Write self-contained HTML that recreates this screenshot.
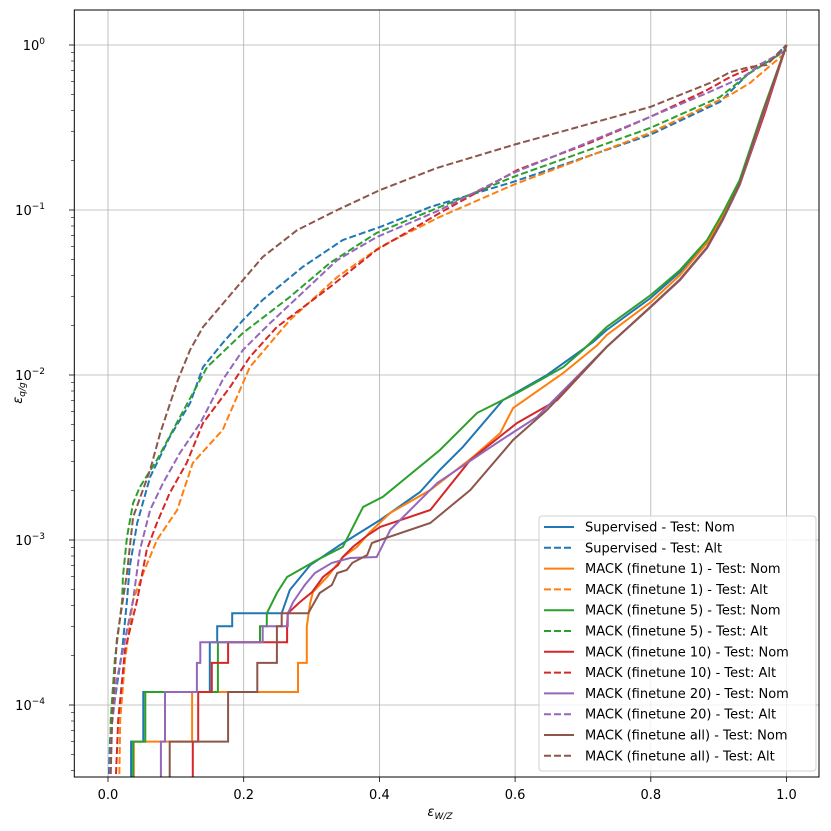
<!DOCTYPE html>
<html><head><meta charset="utf-8"><style>
html,body{margin:0;padding:0;background:#fff;}
svg{display:block;font-family:"DejaVu Sans","Liberation Sans",sans-serif;}
</style></head><body>
<svg id="chart" width="831" height="831" viewBox="0 0 831 831" xmlns="http://www.w3.org/2000/svg">
<defs><clipPath id="plotclip"><rect x="74" y="10" width="745" height="767"/></clipPath></defs>
<rect x="0" y="0" width="831" height="831" fill="#fff"/>
<g id="grid"></g>
<g id="series" clip-path="url(#plotclip)"></g>
<rect x="74.3" y="10" width="744.7" height="767" fill="none" stroke="#000" stroke-width="1"/>
<g id="ticks"></g>
<text x="440" y="816" font-size="13" text-anchor="middle" font-style="italic">ε<tspan font-size="9" dy="3">W/Z</tspan></text>
<text transform="translate(22,393) rotate(-90)" font-size="13" text-anchor="middle" font-style="italic">ε<tspan font-size="9" dy="3">q/g</tspan></text>
<g id="legend"></g>
</svg>
<script>
const xTicks = [0.0, 0.2, 0.4, 0.6, 0.8, 1.0];
const xTickLabels = ["0.0","0.2","0.4","0.6","0.8","1.0"];
const yTickExps = [0, -1, -2, -3, -4];
const seriesNames = ["Supervised - Test: Nom","Supervised - Test: Alt","MACK (finetune 1) - Test: Nom","MACK (finetune 1) - Test: Alt","MACK (finetune 5) - Test: Nom","MACK (finetune 5) - Test: Alt","MACK (finetune 10) - Test: Nom","MACK (finetune 10) - Test: Alt","MACK (finetune 20) - Test: Nom","MACK (finetune 20) - Test: Alt","MACK (finetune all) - Test: Nom","MACK (finetune all) - Test: Alt"];
const seriesColors = ["#1f77b4","#1f77b4","#ff7f0e","#ff7f0e","#2ca02c","#2ca02c","#d62728","#d62728","#9467bd","#9467bd","#8c564b","#8c564b"];

const supNomX = [.034,.034,.052,.052,.150,.150,.161,.161,.183,.183,.256,.268,.298,.342,.401,.460,.489,.523,.582,.647,.715,.735,.800,.843,.883,.906,.931,.965,1.0];
const supNomLog = [-4.6,-4.222,-4.222,-3.921,-3.921,-3.62,-3.62,-3.523,-3.523,-3.444,-3.444,-3.303,-3.152,-3.030,-2.879,-2.709,-2.576,-2.436,-2.152,-2.0,-1.80,-1.727,-1.533,-1.376,-1.2,-1.03,-0.83,-0.412,0];
const supAltX = [0,.003,.010,.021,.028,.032,.043,.062,.091,.121,.140,.169,.199,.228,.287,.346,.401,.475,.597,.799,.902,.946,.980,1];
const supAltLog = [-4.6,-4.212,-3.970,-3.667,-3.364,-3.164,-2.897,-2.618,-2.376,-2.170,-1.952,-1.806,-1.667,-1.545,-1.345,-1.182,-1.103,-.982,-.830,-.545,-.345,-.164,-.079,0];
const ft1NomX = [.038,.038,.124,.124,.280,.280,.293,.293,.298,.302,.323,.346,.367,.386,.416,.475,.538,.578,.597,.671,.721,.735,.800,.843,.883,.906,.931,.965,1];
const ft1NomLog = [-4.6,-4.222,-4.222,-3.921,-3.921,-3.745,-3.745,-3.523,-3.382,-3.315,-3.224,-3.103,-3.042,-2.952,-2.836,-2.697,-2.497,-2.352,-2.2,-1.988,-1.82,-1.758,-1.558,-1.394,-1.2,-1.04,-.835,-.412,0];
const ft1AltX = [.016,.018,.025,.037,.052,.072,.102,.125,.169,.209,.268,.338,.401,.489,.597,.799,.917,.946,1];
const ft1AltLog = [-4.6,-4.091,-3.727,-3.364,-3.2,-3.0,-2.818,-2.533,-2.333,-1.952,-1.667,-1.406,-1.224,-1.042,-.848,-.533,-.303,-.230,-.042];
const ft5NomX = [.037,.037,.055,.055,.162,.162,.224,.224,.234,.234,.249,.264,.308,.346,.376,.405,.489,.544,.603,.671,.700,.735,.800,.843,.883,.906,.931,.965,1];
const ft5NomLog = [-4.6,-4.222,-4.222,-3.921,-3.921,-3.62,-3.62,-3.523,-3.523,-3.444,-3.321,-3.224,-3.121,-3.042,-2.8,-2.739,-2.455,-2.230,-2.109,-1.952,-1.848,-1.709,-1.515,-1.364,-1.182,-1.018,-.818,-.40,0];
const ft5AltX = [.003,.004,.010,.021,.022,.028,.037,.047,.072,.106,.146,.199,.268,.327,.396,.489,.597,.799,.902,.946,1];
const ft5AltLog = [-4.6,-4.091,-3.727,-3.364,-3.224,-2.982,-2.776,-2.679,-2.515,-2.255,-1.952,-1.745,-1.527,-1.321,-1.139,-.982,-.800,-.503,-.315,-.170,-.030];
const ft10NomX = [.125,.125,.133,.133,.153,.153,.177,.177,.264,.264,.265,.283,.301,.317,.339,.346,.361,.383,.401,.475,.534,.603,.662,.735,.800,.843,.883,.906,.931,.967,1];
const ft10NomLog = [-4.6,-4.222,-4.222,-3.921,-3.921,-3.745,-3.745,-3.62,-3.62,-3.523,-3.444,-3.376,-3.315,-3.224,-3.152,-3.103,-3.042,-2.970,-2.921,-2.818,-2.515,-2.291,-2.152,-1.830,-1.588,-1.424,-1.230,-1.061,-.848,-.424,0];
const ft10AltX = [.010,.015,.025,.043,.057,.072,.091,.116,.140,.180,.209,.249,.327,.396,.489,.603,.710,.799,.883,.917,.965,1];
const ft10AltLog = [-4.6,-4.091,-3.667,-3.364,-3.061,-2.897,-2.715,-2.533,-2.291,-2.073,-1.891,-1.709,-1.467,-1.242,-1.018,-.758,-.594,-.436,-.273,-.194,-.109,-.030];
const ft20NomX = [.078,.078,.084,.084,.131,.131,.136,.136,.228,.228,.265,.265,.273,.283,.290,.305,.330,.357,.396,.416,.485,.573,.632,.735,.800,.843,.883,.906,.931,.965,1];
const ft20NomLog = [-4.6,-4.222,-4.222,-3.921,-3.921,-3.745,-3.745,-3.62,-3.62,-3.523,-3.523,-3.444,-3.376,-3.315,-3.273,-3.2,-3.139,-3.109,-3.103,-2.939,-2.655,-2.412,-2.255,-1.830,-1.588,-1.424,-1.230,-1.061,-.848,-.424,0];
const ft20AltX = [.001,.006,.013,.037,.047,.062,.081,.106,.136,.169,.199,.239,.338,.396,.489,.597,.799,.883,.936,.965,1];
const ft20AltLog = [-4.6,-4.091,-3.848,-3.364,-3.061,-2.818,-2.655,-2.473,-2.291,-2.030,-1.848,-1.685,-1.303,-1.164,-1.0,-.776,-.436,-.291,-.194,-.109,-.030];
const ftAllNomX = [.091,.091,.177,.177,.220,.220,.249,.249,.256,.256,.295,.312,.330,.338,.352,.360,.382,.389,.401,.475,.534,.597,.647,.735,.800,.843,.883,.906,.931,.965,1];
const ftAllNomLog = [-4.6,-4.222,-4.222,-3.921,-3.921,-3.745,-3.745,-3.523,-3.523,-3.444,-3.444,-3.321,-3.273,-3.2,-3.182,-3.139,-3.091,-3.018,-3.0,-2.897,-2.697,-2.394,-2.212,-1.830,-1.585,-1.420,-1.225,-1.055,-.84,-.412,0];
const ftAllAltX = [.003,.006,.013,.028,.037,.062,.077,.103,.121,.140,.199,.228,.279,.338,.401,.485,.597,.799,.887,.917,.946,.971,1];
const ftAllAltLog = [-4.6,-4.091,-3.606,-3.2,-2.861,-2.576,-2.352,-2.030,-1.848,-1.709,-1.424,-1.285,-1.121,-1.0,-.879,-.745,-.606,-.376,-.230,-.164,-.133,-.121,0];

const NS = "http://www.w3.org/2000/svg";
const X0 = 108, XS = 678.5, Y0 = 45, YS = 165;
function xs(v){ return X0 + v*XS; }
function ysLog(l){ return Y0 - l*YS; }
function mk(tag, attrs, parent){ const e = document.createElementNS(NS, tag); for (const k in attrs) e.setAttribute(k, attrs[k]); parent.appendChild(e); return e; }

const grid = document.getElementById('grid');
const ticks = document.getElementById('ticks');
xTicks.forEach((t,i)=>{
  const gl = mk('line',{x1:xs(t),x2:xs(t),y1:10,y2:777,stroke:'#b0b0b0','stroke-width':0.8},grid);
  
  
  const tk = mk('line',{x1:xs(t),x2:xs(t),y1:777,y2:782,stroke:'#000','stroke-width':0.8},ticks);
  
  
  const tl = mk('text',{x:xs(t),y:799,'font-size':13,'text-anchor':'middle'},ticks);
  tl.textContent = xTickLabels[i];
  
  
});
yTickExps.forEach(ex=>{
  const y = ysLog(ex);
  const gl = mk('line',{x1:74,x2:819,y1:y,y2:y,stroke:'#b0b0b0','stroke-width':0.8},grid);
  
  
  const tk = mk('line',{x1:69,x2:74,y1:y,y2:y,stroke:'#000','stroke-width':0.8},ticks);
  
  
  const tl = mk('text',{x:45,y:y+5,'font-size':13,'text-anchor':'end'},ticks);
  
  
  tl.textContent = '10';
  const sp = mk('tspan',{'font-size':9,dy:-6},tl);
  sp.textContent = ex===0 ? '0' : '\u2212'+(-ex);
});
for (let ex=-5; ex<=0; ex++){
  for (let m=2; m<=9; m++){
    const y = ysLog(ex + Math.log10(m));
    if (y < 10 || y > 777) continue;
    const mt = mk('line',{x1:71,x2:74,y1:y,y2:y,stroke:'#000','stroke-width':0.6},ticks);
    
    
  }
}

const seriesX = [supNomX,supAltX,ft1NomX,ft1AltX,ft5NomX,ft5AltX,ft10NomX,ft10AltX,ft20NomX,ft20AltX,ftAllNomX,ftAllAltX];
const seriesLog = [supNomLog,supAltLog,ft1NomLog,ft1AltLog,ft5NomLog,ft5AltLog,ft10NomLog,ft10AltLog,ft20NomLog,ft20AltLog,ftAllNomLog,ftAllAltLog];
const sg = document.getElementById('series');
seriesX.forEach((xsArr,i)=>{
  const pts = xsArr.map((v,j)=> xs(v).toFixed(1)+','+ysLog(seriesLog[i][j]).toFixed(1)).join(' ');
  const attrs = {points:pts,fill:'none',stroke:seriesColors[i],'stroke-width':2,'stroke-linejoin':'miter'};
  if (i%2===1) attrs['stroke-dasharray']='7,3';
  const pl = mk('polyline',attrs,sg);
  
  
});

const lg = document.getElementById('legend');
const box = mk('rect',{x:539,y:516,width:277,height:255,rx:3,fill:'#fff','fill-opacity':0.8,stroke:'#d0d0d0','stroke-width':1},lg);


seriesNames.forEach((n,i)=>{
  const y = 527 + i*20.8;
  const la = {x1:544,x2:574,y1:y,y2:y,stroke:seriesColors[i],'stroke-width':2};
  if (i%2===1) la['stroke-dasharray']='7,3';
  const ln = mk('line',la,lg);
  
  
  const tx = mk('text',{x:585,y:y+4.5,'font-size':13},lg);
  tx.textContent = n;
  
  
});
</script>
</body></html>
